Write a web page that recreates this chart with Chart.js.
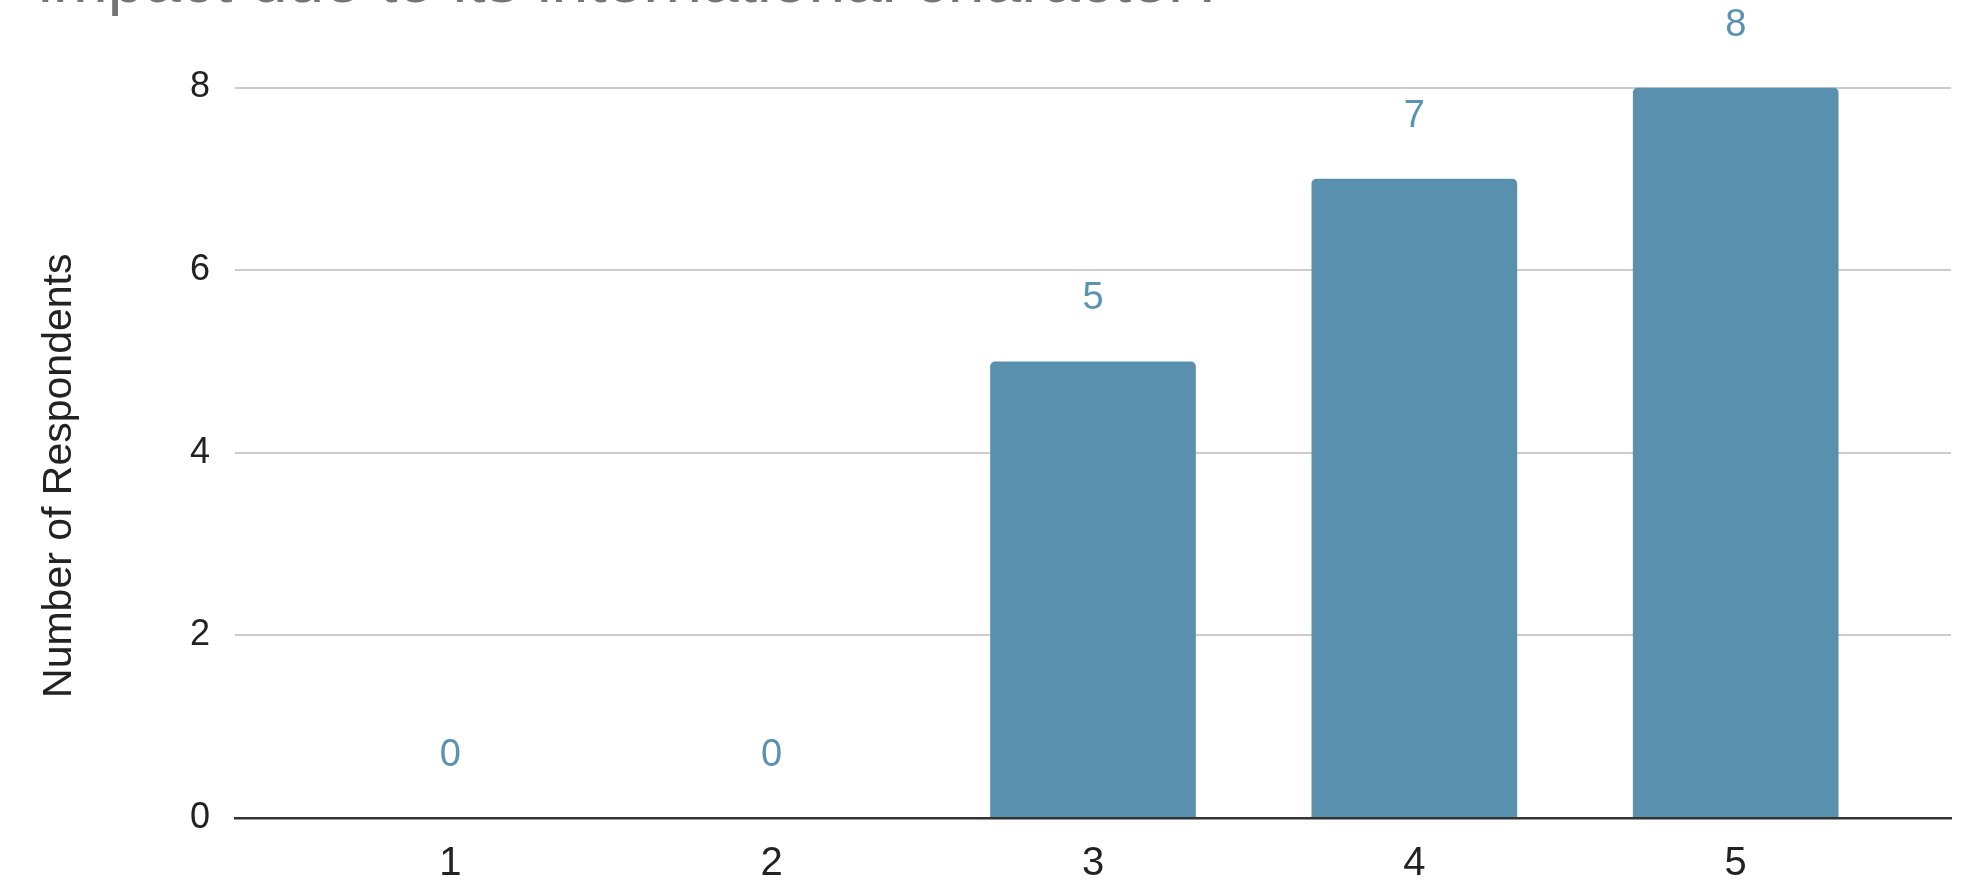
<!DOCTYPE html>
<html>
<head>
<meta charset="utf-8">
<script src="https://cdn.jsdelivr.net/npm/chart.js@4.4.1/dist/chart.umd.min.js"></script>
<style>
html,body{margin:0;padding:0;background:#ffffff;}
#wrap{position:relative;width:1979px;height:882px;}
</style>
</head>
<body>
<div id="wrap"><canvas id="c" width="1979" height="882"></canvas></div>
<script>
const categories = ['1', '2', '3', '4', '5'];
const respondents = [0, 0, 5, 7, 8];
const yTicks = [0, 2, 4, 6, 8];
const titleText = 'impact due to its international character?';
const yAxisTitle = 'Number of Respondents';

const FONT = '"Liberation Sans", Arial, sans-serif';
const BAR_COLOR = '#5890ae';
const LABEL_COLOR = '#5a93b1';

const valueLabels = {
  id: 'valueLabels',
  afterDatasetsDraw(chart) {
    const ctx = chart.ctx;
    const meta = chart.getDatasetMeta(0);
    ctx.save();
    ctx.font = '38px ' + FONT;
    ctx.fillStyle = LABEL_COLOR;
    ctx.textAlign = 'center';
    ctx.textBaseline = 'alphabetic';
    meta.data.forEach((el, i) => {
      ctx.fillText(String(respondents[i]), el.x, el.y - 52);
    });
    ctx.restore();
  }
};

const yTitlePlugin = {
  id: 'yTitlePlugin',
  afterDraw(chart) {
    const ctx = chart.ctx;
    const area = chart.chartArea;
    ctx.save();
    ctx.translate(60, (area.top + area.bottom) / 2 + 23);
    ctx.rotate(-Math.PI / 2);
    ctx.font = '41px ' + FONT;
    ctx.fillStyle = '#222222';
    ctx.textAlign = 'center';
    ctx.textBaseline = 'middle';
    ctx.fillText(yAxisTitle, 0, 0);
    ctx.restore();
  }
};

new Chart(document.getElementById('c'), {
  type: 'bar',
  data: {
    datasets: [{
      data: categories.map((c, i) => ({ x: i + 1, y: respondents[i] })),
      backgroundColor: BAR_COLOR,
      borderWidth: 0,
      borderRadius: { topLeft: 5, topRight: 5, bottomLeft: 0, bottomRight: 0 },
      borderSkipped: 'start',
      barPercentage: 0.64,
      categoryPercentage: 1.0
    }]
  },
  options: {
    responsive: false,
    animation: false,
    devicePixelRatio: 1,
    layout: { padding: { left: 38, right: 28, top: 0, bottom: 0 } },
    plugins: {
      legend: { display: false },
      tooltip: { enabled: false },
      title: {
        display: true,
        text: titleText,
        align: 'start',
        color: '#757575',
        font: { family: FONT, size: 66, weight: 'normal', lineHeight: 1.2 },
        padding: { top: -55.9, bottom: 64.2 }
      }
    },
    scales: {
      x: {
        type: 'linear',
        offset: false,
        min: 0.33,
        max: 5.67,
        afterBuildTicks: s => { s.ticks = categories.map((c, i) => ({ value: i + 1 })); },
        afterFit: s => { s.height = 64; },
        grid: { display: false, drawTicks: false, offset: false },
        border: { display: true, color: '#333333', width: 2.5, z: 1 },
        ticks: {
          padding: 22,
          color: '#222222',
          autoSkip: false,
          maxRotation: 0,
          font: { family: FONT, size: 40 },
          callback: v => categories[Math.round(v) - 1]
        }
      },
      y: {
        min: 0,
        max: 8,
        afterBuildTicks: s => { s.ticks = yTicks.map(v => ({ value: v })); },
        afterFit: s => { s.width = 197; },
        grid: {
          drawTicks: false,
          color: c => (c.tick && c.tick.value === 0) ? '#333333' : '#cccccc',
          lineWidth: 2
        },
        border: { display: false },
        ticks: {
          padding: 25,
          color: '#222222',
          font: { family: FONT, size: 36 }
        },
        title: { display: false }
      }
    }
  },
  plugins: [valueLabels, yTitlePlugin]
});
</script>
</body>
</html>
